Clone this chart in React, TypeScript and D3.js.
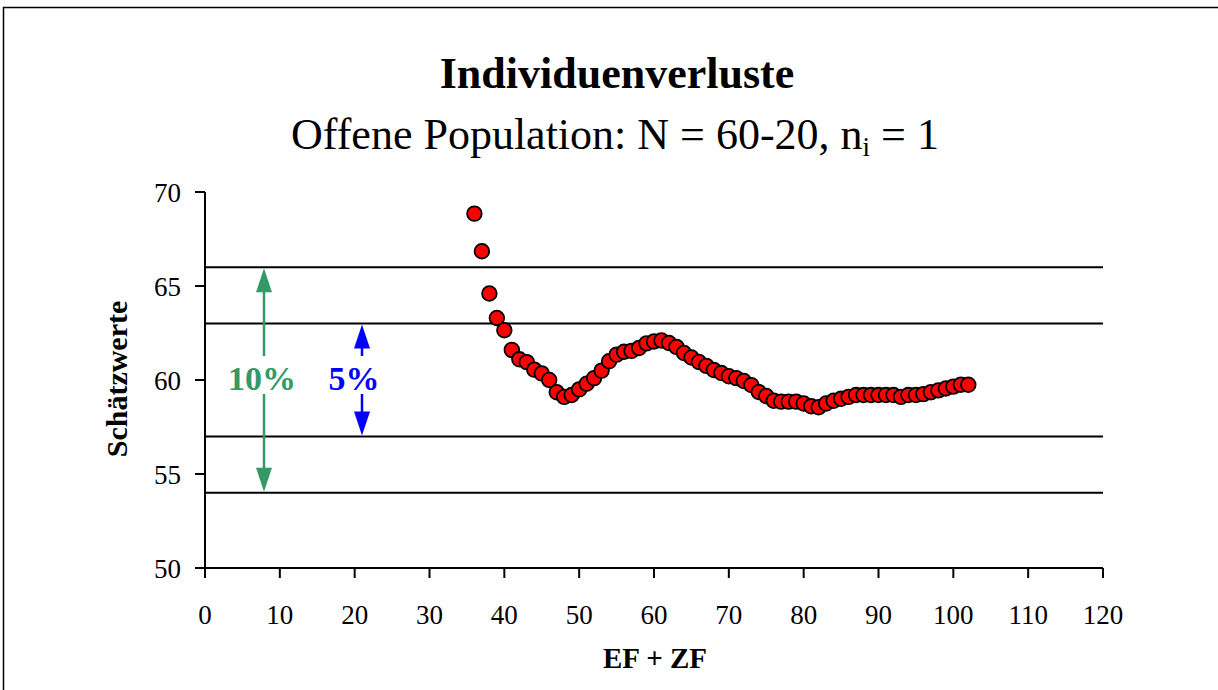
import React from "react";
import * as d3 from "d3";

const xValues: number[] = [
  36, 37, 38, 39, 40, 41, 42, 43, 44, 45, 46, 47, 48, 49, 50, 51, 52, 53, 54, 55,
  56, 57, 58, 59, 60, 61, 62, 63, 64, 65, 66, 67, 68, 69, 70, 71, 72, 73, 74, 75,
  76, 77, 78, 79, 80, 81, 82, 83, 84, 85, 86, 87, 88, 89, 90, 91, 92, 93, 94, 95,
  96, 97, 98, 99, 100, 101, 102,
];
const yValues: number[] = [
  68.85, 66.85, 64.6, 63.3, 62.65, 61.6, 61.1, 60.95, 60.55, 60.35, 60.0, 59.35, 59.1, 59.2, 59.5, 59.8, 60.1, 60.5, 61.0, 61.35,
  61.5, 61.55, 61.7, 61.95, 62.05, 62.1, 61.97, 61.76, 61.44, 61.2, 60.96, 60.75, 60.53, 60.37, 60.2, 60.1, 59.95, 59.73, 59.36, 59.15,
  58.9, 58.85, 58.85, 58.85, 58.75, 58.6, 58.55, 58.75, 58.9, 59.0, 59.1, 59.2, 59.2, 59.2, 59.2, 59.2, 59.2, 59.1, 59.2, 59.2,
  59.25, 59.35, 59.45, 59.55, 59.65, 59.75, 59.75,
];
const refLines: number[] = [66, 63, 57, 54];
const xTicks: number[] = [0, 10, 20, 30, 40, 50, 60, 70, 80, 90, 100, 110, 120];
const yTicks: number[] = [50, 55, 60, 65, 70];
const title = "Individuenverluste";
const xLabel = "EF + ZF";
const yLabel = "Schätzwerte";

const W = 1218;
const H = 690;
const FONT = "'Liberation Serif', 'Times New Roman', serif";

export default function App() {
  const x = d3.scaleLinear().domain([0, 120]).range([205, 1103]);
  const y = d3.scaleLinear().domain([50, 70]).range([568, 192]);
  const green = "#339966";
  const blue = "#0000FF";

  const arrowHead = (cx: number, tipY: number, dir: number, color: string, hw: number, hl: number) => {
    const p = `M${cx},${tipY} L${cx - hw},${tipY + dir * hl} L${cx + hw},${tipY + dir * hl} Z`;
    return <path d={p} fill={color} />;
  };

  const gx = 264;
  const bx = 362;
  const y66 = y(66), y54 = y(54), y63 = y(63), y57 = y(57);

  return (
    <svg width={W} height={H} style={{ position: "absolute", left: 0, top: 0, background: "#fff" }} fontFamily={FONT}>
      <rect x={0} y={0} width={W} height={H} fill="#fff" />
      {/* outer frame */}
      <path d={`M3.5,${H} L3.5,7.5 L${W},7.5`} fill="none" stroke="#000" strokeWidth={1.5} />

      <text x={617} y={88} textAnchor="middle" fontSize={44} fontWeight="bold">{title}</text>
      <text x={615} y={149} textAnchor="middle" fontSize={44}>
        Offene Population: N = 60-20, n<tspan fontSize={27} dy={7}>i</tspan><tspan dy={-7}> = 1</tspan>
      </text>

      {/* reference lines */}
      {refLines.map((v) => (
        <line key={v} x1={x(0)} x2={x(120)} y1={y(v)} y2={y(v)} stroke="#000" strokeWidth={2} />
      ))}

      {/* axes */}
      <line x1={x(0)} x2={x(0)} y1={y(70)} y2={y(50)} stroke="#000" strokeWidth={2} />
      <line x1={x(0)} x2={x(120)} y1={y(50)} y2={y(50)} stroke="#000" strokeWidth={2} />
      {yTicks.map((t) => (
        <g key={t}>
          <line x1={x(0) - 10} x2={x(0)} y1={y(t)} y2={y(t)} stroke="#000" strokeWidth={2} />
          <text x={181} y={y(t) + 10} textAnchor="end" fontSize={27}>{t}</text>
        </g>
      ))}
      {xTicks.map((t) => (
        <g key={t}>
          <line x1={x(t)} x2={x(t)} y1={y(50)} y2={y(50) + 10} stroke="#000" strokeWidth={2} />
          <text x={x(t)} y={624} textAnchor="middle" fontSize={27}>{t}</text>
        </g>
      ))}
      <text x={655} y={668} textAnchor="middle" fontSize={29} fontWeight="bold">{xLabel}</text>
      <text transform={`translate(127,379) rotate(-90)`} textAnchor="middle" fontSize={30} fontWeight="bold">{yLabel}</text>

      {/* 10% arrow */}
      <line x1={gx} x2={gx} y1={y66 + 20} y2={356} stroke={green} strokeWidth={2.5} />
      <line x1={gx} x2={gx} y1={394} y2={y54 - 20} stroke={green} strokeWidth={2.5} />
      {arrowHead(gx, y66 + 1, 1, green, 8, 24)}
      {arrowHead(gx, y54 - 1, -1, green, 8, 24)}
      <text x={262} y={390} textAnchor="middle" fontSize={34} fontWeight="bold" fill={green}>10%</text>

      {/* 5% arrow */}
      <line x1={bx} x2={bx} y1={y63 + 20} y2={356} stroke={blue} strokeWidth={2.5} />
      <line x1={bx} x2={bx} y1={394} y2={y57 - 20} stroke={blue} strokeWidth={2.5} />
      {arrowHead(bx, y63 + 1, 1, blue, 8, 24)}
      {arrowHead(bx, y57 - 1, -1, blue, 8, 24)}
      <text x={354} y={390} textAnchor="middle" fontSize={34} fontWeight="bold" fill={blue}>5%</text>

      {/* data */}
      {xValues.map((xv, i) => (
        <circle key={xv} cx={x(xv)} cy={y(yValues[i])} r={7.3} fill="#FF0000" stroke="#000" strokeWidth={1.8} />
      ))}
    </svg>
  );
}
